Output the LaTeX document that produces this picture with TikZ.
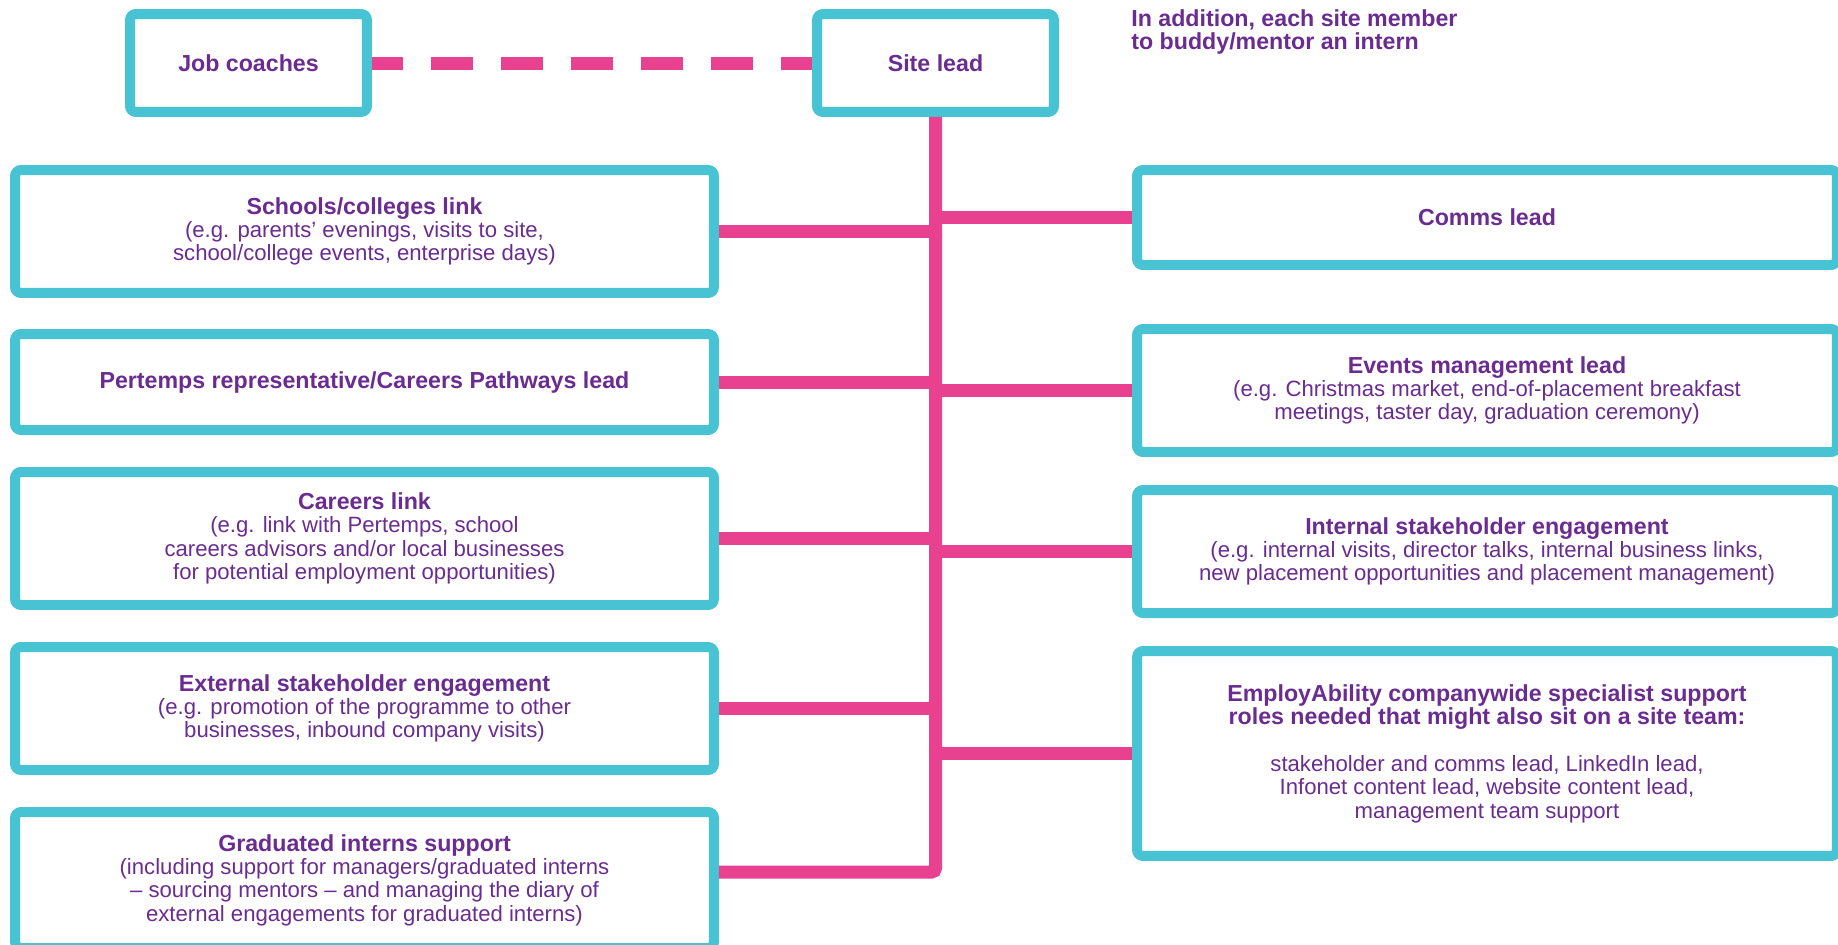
\documentclass[tikz,border=0pt]{standalone}
\usepackage{fontspec}
\setmainfont{Liberation Sans}
\usetikzlibrary{calc}
\definecolor{boxcyan}{HTML}{48C3D3}
\definecolor{linkpink}{HTML}{E8418F}
\definecolor{textpurple}{HTML}{6B2C91}
\newdimen\pxu \pxu=0.2mm
\newcommand\roletitle[1]{{\fontsize{13.2}{13.3}\selectfont\bfseries #1}}

\begin{document}
\begin{tikzpicture}[
  x=0.02cm,
  y=-0.02cm,
  rolebox/.style={
    draw=boxcyan,
    line width=10\pxu,
    rounded corners=6\pxu,
    fill=white,
    align=center,
    text=textpurple,
    inner sep=0pt,
    font=\fontsize{12.6}{13.3}\selectfont
  },
  topbox/.style={
    rolebox,
    minimum width=237\pxu,
    minimum height=98\pxu
  },
  leftbox/.style={
    rolebox,
    minimum width=699\pxu
  },
  rightbox/.style={
    rolebox,
    minimum width=700\pxu
  },
  link/.style={draw=linkpink, line width=13\pxu},
  dashlink/.style={link, dash pattern=on 42\pxu off 28\pxu, dash phase=11\pxu}
]
\clip (0,0) rectangle (1838,944);

% Top row: coaches and site lead.
\node[topbox] (coaches) at (248.5,63) {\roletitle{Job coaches}};
\node[topbox] (site) at (935.5,63) {\roletitle{Site lead}};
\node[anchor=north west, align=left, inner sep=0pt, text=textpurple,
  font=\fontsize{13.2}{13.3}\selectfont\bfseries] (note) at (1131,9)
  {In addition, each site member\\to buddy/mentor an intern};

% Roles on the left.
\node[leftbox, minimum height=123\pxu] (schools) at (364.5,231.5)
  {\roletitle{Schools/colleges link}\\(e.g. parents' evenings, visits to site,\\school/college events, enterprise days)};
\node[leftbox, minimum height=96\pxu] (pertemps) at (364.5,382)
  {\roletitle{Pertemps representative/Careers Pathways lead}};
\node[leftbox, minimum height=133\pxu] (careers) at (364.5,538.5)
  {\roletitle{Careers link}\\(e.g. link with Pertemps, school\\careers advisors and/or local businesses\\for potential employment opportunities)};
\node[leftbox, minimum height=123\pxu] (external) at (364.5,708.5)
  {\roletitle{External stakeholder engagement}\\(e.g. promotion of the programme to other\\businesses, inbound company visits)};
\node[leftbox, minimum height=136\pxu] (graduated) at (364.5,880)
  {\roletitle{Graduated interns support}\\(including support for managers/graduated interns\\– sourcing mentors – and managing the diary of\\external engagements for graduated interns)};

% Roles on the right.
\node[rightbox, minimum height=95\pxu] (comms) at (1487,217.5)
  {\roletitle{Comms lead}};
\node[rightbox, minimum height=123\pxu] (events) at (1487,390.5)
  {\roletitle{Events management lead}\\(e.g. Christmas market, end-of-placement breakfast\\meetings, taster day, graduation ceremony)};
\node[rightbox, minimum height=123\pxu] (internal) at (1487,551.5)
  {\roletitle{Internal stakeholder engagement}\\(e.g. internal visits, director talks, internal business links,\\new placement opportunities and placement management)};
\node[rightbox, minimum height=205\pxu] (ability) at (1487,753.5)
  {\roletitle{EmployAbility companywide specialist support}\\\roletitle{roles needed that might also sit on a site team:}\\[13.3pt]stakeholder and comms lead, LinkedIn lead,\\Infonet content lead, website content lead,\\management team support};

% Links to the site lead.
\coordinate (gradin) at ($(graduated.east)+(0,-8)$);
\draw[dashlink] (coaches.east) -- (site.west);
\draw[link, rounded corners=4\pxu] (site.south) |- (gradin);
\draw[link] (schools.east) -- (schools.east -| site.south);
\draw[link] (pertemps.east) -- (pertemps.east -| site.south);
\draw[link] (careers.east) -- (careers.east -| site.south);
\draw[link] (external.east) -- (external.east -| site.south);
\draw[link] (comms.west) -- (comms.west -| site.south);
\draw[link] (events.west) -- (events.west -| site.south);
\draw[link] (internal.west) -- (internal.west -| site.south);
\draw[link] (ability.west) -- (ability.west -| site.south);

\end{tikzpicture}
\end{document}
